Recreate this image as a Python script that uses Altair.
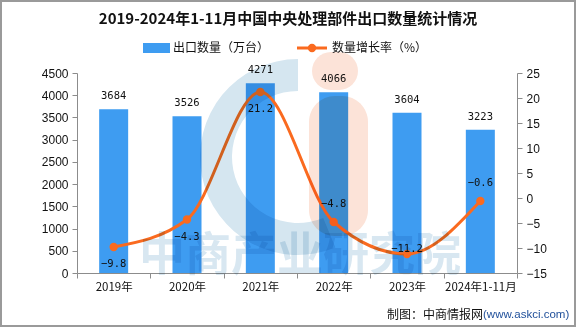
import altair as alt
import pandas as pd

years = ["2019年", "2020年", "2021年", "2022年", "2023年", "2024年1-11月"]
exports = [3684, 3526, 4271, 4066, 3604, 3223]
growth = [-9.8, -4.3, 21.2, -4.8, -11.2, -0.6]

df = pd.DataFrame({"year": years, "exports": exports, "growth": growth})

BLUE = "#3e9cf1"
ORANGE = "#fa6a1f"
AX = "#8c8c8c"
FONT = "Noto Sans CJK SC"
NUMFONT = "DejaVu Sans Mono"

W, H = 440, 200
OX, OY = 77, 73  # plot origin in page pixels


def px(x):
    return alt.value(x - OX)


def py(y):
    return alt.value(y - OY)


xenc = alt.X("year:N", sort=years, title=None,
             scale=alt.Scale(paddingInner=0, paddingOuter=0),
             axis=alt.Axis(labelAngle=0, tickBand="extent", domainColor=AX, tickColor=AX,
                           tickSize=5, labelPadding=3, labelFont=FONT, labelFontSize=11.5,
                           labelColor="#111", labelOverlap=False, labelFlush=False))

yl = alt.Y("exports:Q", title=None,
           scale=alt.Scale(domain=[0, 4500], nice=False),
           axis=alt.Axis(values=list(range(0, 4501, 500)), format="d", grid=False,
                         domainColor=AX, labelOverlap=False, labelFlush=False,
                         tickColor=AX, tickSize=5, labelPadding=4, labelFont="Liberation Sans",
                         labelFontSize=12, labelColor="#111"))

yr = alt.Y("growth:Q", title=None, scale=alt.Scale(domain=[-15, 25], nice=False),
           axis=alt.Axis(values=list(range(-15, 26, 5)), format="d", grid=False, orient="right",
                         labelOverlap=False, labelFlush=False,
                         domainColor=AX, tickColor=AX, tickSize=5, labelPadding=4,
                         labelFont="Liberation Sans", labelFontSize=12, labelColor="#111"))

base = alt.Chart(df)

bars = base.mark_bar(color=BLUE, size=29).encode(x=xenc, y=yl)
bar_text = base.mark_text(dy=-13, font=NUMFONT, fontSize=10.5, color="#111").encode(
    x=xenc, y=yl, text="exports:Q")
left = alt.layer(bars, bar_text)

line = base.mark_line(color=ORANGE, strokeWidth=3, interpolate="monotone").encode(x=xenc, y=yr)
pts = base.mark_point(filled=True, color=ORANGE, size=70, opacity=1).encode(x=xenc, y=yr)


def gtext(sel, dy):
    return base.transform_filter(alt.FieldOneOfPredicate(field="year", oneOf=sel)).mark_text(
        dy=dy, font=NUMFONT, fontSize=10.5, color="#111").encode(
        x=xenc, y=yr, text=alt.Text("growth:Q", format=".1f"))


right = alt.layer(line, pts,
                  gtext([years[0], years[1], years[2]], 17),
                  gtext([years[3], years[5]], -18),
                  gtext([years[4]], -5))

main = alt.layer(left, right).resolve_scale(y="independent")

one = pd.DataFrame({"k": [0]})
deco = alt.Chart(one)

# watermark (logo + text), multiplied over the chart
wm_c = deco.mark_arc(color="#d5e6f0", blend="multiply").encode(
    x=px(298), y=py(157), radius=alt.value(98), radius2=alt.value(66),
    theta=alt.value(2.75), theta2=alt.value(6.283))
wm_i1 = deco.mark_rect(color="#fce3d8", cornerRadius=26, blend="multiply").encode(
    x=px(309), x2=px(368), y=py(96), y2=py(236))
wm_i2 = deco.mark_rect(color="#fce3d8", cornerRadius=20, blend="multiply").encode(
    x=px(312), x2=px(358), y=py(52), y2=py(90))
wm_t = deco.mark_text(text="中商产业研究院", font=FONT, fontSize=46, fontWeight="bold",
                      color="#d8e7f1", blend="multiply").encode(x=px(300), y=py(256))

title = deco.mark_text(text="2019-2024年1-11月中国中央处理部件出口数量统计情况", font=FONT,
                       fontSize=15, fontWeight="bold", color="#111").encode(x=px(288), y=py(19))
leg_r = deco.mark_rect(color=BLUE).encode(x=px(143), x2=px(170), y=py(43), y2=py(53))
leg_t1 = deco.mark_text(text="出口数量（万台）", font=FONT, fontSize=12, align="left",
                        color="#111").encode(x=px(173), y=py(48))
leg_l = deco.mark_rule(color=ORANGE, strokeWidth=3).encode(x=px(297), x2=px(327), y=py(48))
leg_p = deco.mark_point(filled=True, color=ORANGE, size=70, opacity=1).encode(x=px(312), y=py(48))
leg_t2 = deco.mark_text(text="数量增长率（%）", font=FONT, fontSize=12, align="left",
                        color="#111").encode(x=px(332), y=py(48))
src1 = deco.mark_text(text="制图：中商情报网", font=FONT, fontSize=12, align="left",
                      color="#111").encode(x=px(387), y=py(315))
src2 = deco.mark_text(text="(www.askci.com)", font="Liberation Sans", fontSize=11.5, align="left",
                      color="#1f4f9a").encode(x=px(483), y=py(315))
border = deco.mark_rect(fill=None, stroke="#9a9a9a", strokeWidth=2).encode(
    x=px(1), x2=px(575), y=py(1), y2=py(326))

chart = alt.layer(
    main, wm_c, wm_i1, wm_i2, wm_t, title, leg_r, leg_t1, leg_l, leg_p, leg_t2, src1, src2, border
).properties(
    width=W, height=H,
    autosize=alt.AutoSizeParams(type="none"),
    padding={"left": OX, "top": OY, "right": 576 - OX - W, "bottom": 327 - OY - H},
    background="white",
).configure_view(stroke=None)

chart.save("out.html", embed_options={"renderer": "svg", "actions": False})
